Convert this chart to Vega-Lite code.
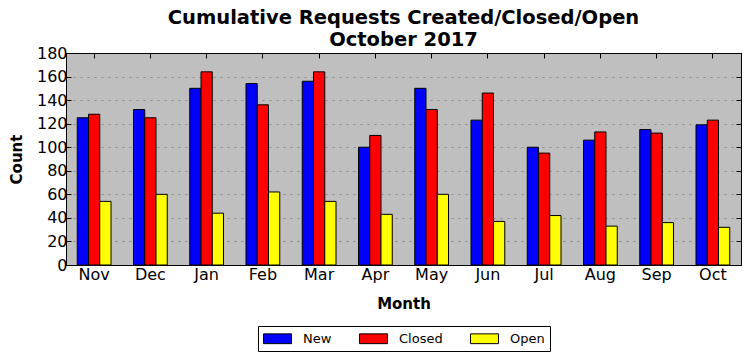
{
  "$schema": "https://vega.github.io/schema/vega-lite/v6.json",
  "autosize": "none",
  "width": 675,
  "height": 212,
  "padding": {"left": 66, "top": 53, "right": 10, "bottom": 96},
  "background": "white",
  "title": {
    "text": ["Cumulative Requests Created/Closed/Open", "October 2017"],
    "font": "DejaVu Sans",
    "fontSize": 19.5,
    "fontWeight": "bold",
    "color": "black",
    "lineHeight": 22,
    "offset": -5,
    "anchor": "middle"
  },
  "config": {
    "font": "DejaVu Sans",
    "view": {"fill": "#bfbfbf", "stroke": "black", "strokeWidth": 1},
    "axis": {
      "domainColor": "black",
      "tickColor": "black",
      "labelColor": "black",
      "titleColor": "black",
      "labelFont": "DejaVu Sans",
      "titleFont": "DejaVu Sans",
      "labelFontSize": 16,
      "titleFontSize": 15,
      "titleFontWeight": "bold",
      "tickSize": -5,
      "tickWidth": 1
    }
  },
  "data": {
    "values": [
      {"month": "Nov", "type": "New", "count": 125},
      {"month": "Nov", "type": "Closed", "count": 128},
      {"month": "Nov", "type": "Open", "count": 54},
      {"month": "Dec", "type": "New", "count": 132},
      {"month": "Dec", "type": "Closed", "count": 125},
      {"month": "Dec", "type": "Open", "count": 60},
      {"month": "Jan", "type": "New", "count": 150},
      {"month": "Jan", "type": "Closed", "count": 164},
      {"month": "Jan", "type": "Open", "count": 44},
      {"month": "Feb", "type": "New", "count": 154},
      {"month": "Feb", "type": "Closed", "count": 136},
      {"month": "Feb", "type": "Open", "count": 62},
      {"month": "Mar", "type": "New", "count": 156},
      {"month": "Mar", "type": "Closed", "count": 164},
      {"month": "Mar", "type": "Open", "count": 54},
      {"month": "Apr", "type": "New", "count": 100},
      {"month": "Apr", "type": "Closed", "count": 110},
      {"month": "Apr", "type": "Open", "count": 43},
      {"month": "May", "type": "New", "count": 150},
      {"month": "May", "type": "Closed", "count": 132},
      {"month": "May", "type": "Open", "count": 60},
      {"month": "Jun", "type": "New", "count": 123},
      {"month": "Jun", "type": "Closed", "count": 146},
      {"month": "Jun", "type": "Open", "count": 37},
      {"month": "Jul", "type": "New", "count": 100},
      {"month": "Jul", "type": "Closed", "count": 95},
      {"month": "Jul", "type": "Open", "count": 42},
      {"month": "Aug", "type": "New", "count": 106},
      {"month": "Aug", "type": "Closed", "count": 113},
      {"month": "Aug", "type": "Open", "count": 33},
      {"month": "Sep", "type": "New", "count": 115},
      {"month": "Sep", "type": "Closed", "count": 112},
      {"month": "Sep", "type": "Open", "count": 36},
      {"month": "Oct", "type": "New", "count": 119},
      {"month": "Oct", "type": "Closed", "count": 123},
      {"month": "Oct", "type": "Open", "count": 32}
    ]
  },
  "resolve": {"axis": {"x": "independent", "y": "independent"}},
  "layer": [
    {
      "mark": {"type": "bar", "stroke": "black", "strokeWidth": 1},
      "encoding": {
        "x": {
          "field": "month",
          "type": "nominal",
          "sort": ["Nov", "Dec", "Jan", "Feb", "Mar", "Apr", "May", "Jun", "Jul", "Aug", "Sep", "Oct"],
          "scale": {"paddingInner": 0.4, "paddingOuter": 0.2},
          "axis": {"title": "Month", "labelAngle": 0, "labelPadding": 6, "titlePadding": 14, "grid": false, "domain": true}
        },
        "xOffset": {
          "field": "type",
          "type": "nominal",
          "sort": ["New", "Closed", "Open"],
          "scale": {"paddingInner": 0, "paddingOuter": 0}
        },
        "y": {
          "field": "count",
          "type": "quantitative",
          "scale": {"domain": [0, 180], "nice": false},
          "axis": {
            "title": "Count",
            "values": [0, 20, 40, 60, 80, 100, 120, 140, 160, 180],
            "grid": true,
            "gridColor": "#888888",
            "gridDash": [2, 5],
            "gridWidth": 1,
            "labelPadding": 4,
            "titlePadding": 12
          }
        },
        "color": {
          "field": "type",
          "type": "nominal",
          "sort": ["New", "Closed", "Open"],
          "scale": {"domain": ["New", "Closed", "Open"], "range": ["#0000ff", "#ff0000", "#ffff00"]},
          "legend": {
            "title": null,
            "orient": "none",
            "legendX": 192,
            "legendY": 273,
            "direction": "horizontal",
            "strokeColor": "black",
            "fillColor": "white",
            "padding": 5,
            "columnPadding": 25,
            "labelFontSize": 13,
            "labelColor": "black",
            "labelOffset": 25,
            "symbolType": "M-1,-0.7H3V0.7H-1Z",
            "symbolSize": 196,
            "symbolStrokeColor": "black",
            "symbolStrokeWidth": 1,
            "symbolOpacity": 1
          }
        }
      }
    },
    {
      "mark": {"type": "point", "opacity": 0},
      "encoding": {
        "x": {
          "field": "month",
          "type": "nominal",
          "sort": ["Nov", "Dec", "Jan", "Feb", "Mar", "Apr", "May", "Jun", "Jul", "Aug", "Sep", "Oct"],
          "axis": {"orient": "top", "labels": false, "title": null, "grid": false}
        },
        "y": {
          "field": "count",
          "type": "quantitative",
          "axis": {"orient": "right", "labels": false, "title": null, "grid": false, "values": [0, 20, 40, 60, 80, 100, 120, 140, 160, 180]}
        }
      }
    }
  ]
}
